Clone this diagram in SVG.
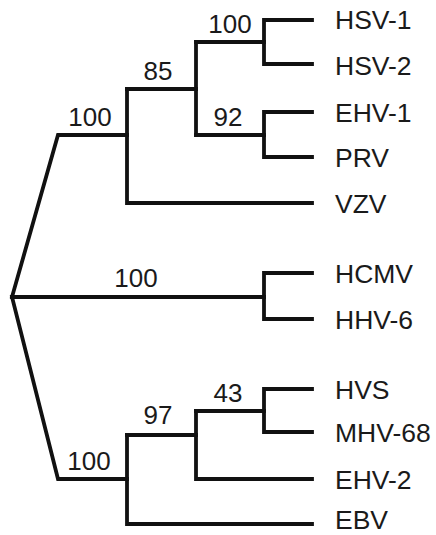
<svg xmlns="http://www.w3.org/2000/svg" width="436" height="535" viewBox="0 0 436 535">
  <style>
    .br { fill: none; stroke: #111; stroke-width: 3.8; stroke-linejoin: miter; stroke-linecap: square; }
    .taxon { font-family: "Liberation Sans", Arial, sans-serif; font-size: 26.5px; fill: #1a1a1a; }
    .boot { font-family: "Liberation Sans", Arial, sans-serif; font-size: 26px; fill: #1a1a1a; text-anchor: middle; }
  </style>
  <rect width="436" height="535" fill="#fff"/>

  <!-- tree branches -->
  <g id="connectors">
    <!-- root to alpha clade -->
    <path class="br" d="M12,297 L58,135 L127,135"/>
    <!-- alpha: 85 node -->
    <path class="br" d="M127,89 L127,203 L312,203"/>
    <path class="br" d="M127,89 L196,89"/>
    <path class="br" d="M196,42 L196,135"/>
    <path class="br" d="M196,42 L264,42"/>
    <path class="br" d="M196,135 L264,135"/>
    <path class="br" d="M312,20 L264,20 L264,64 L312,64"/>
    <path class="br" d="M312,112 L264,112 L264,157 L312,157"/>
    <!-- beta clade -->
    <path class="br" d="M12,297 L264,297"/>
    <path class="br" d="M312,273 L264,273 L264,319 L312,319"/>
    <!-- gamma clade -->
    <path class="br" d="M12,297 L58,479 L127,479"/>
    <path class="br" d="M127,435 L127,524 L312,524"/>
    <path class="br" d="M127,435 L196,435"/>
    <path class="br" d="M196,411 L196,479 L312,479"/>
    <path class="br" d="M196,411 L264,411"/>
    <path class="br" d="M312,389 L264,389 L264,432 L312,432"/>
  </g>

  <!-- bootstrap values -->
  <g id="support">
    <text class="boot" x="230" y="33">100</text>
    <text class="boot" x="158" y="80">85</text>
    <text class="boot" x="90" y="126">100</text>
    <text class="boot" x="228" y="126">92</text>
    <text class="boot" x="136" y="287">100</text>
    <text class="boot" x="228" y="402">43</text>
    <text class="boot" x="158" y="424">97</text>
    <text class="boot" x="89" y="470">100</text>
  </g>

  <!-- taxa -->
  <g id="HSV-1"><text class="taxon" x="335" y="29">HSV-1</text></g>
  <g id="HSV-2"><text class="taxon" x="335" y="75">HSV-2</text></g>
  <g id="EHV-1"><text class="taxon" x="335" y="122">EHV-1</text></g>
  <g id="PRV"><text class="taxon" x="335" y="167">PRV</text></g>
  <g id="VZV"><text class="taxon" x="335" y="213">VZV</text></g>
  <g id="HCMV"><text class="taxon" x="335" y="283">HCMV</text></g>
  <g id="HHV-6"><text class="taxon" x="335" y="329">HHV-6</text></g>
  <g id="HVS"><text class="taxon" x="335" y="399">HVS</text></g>
  <g id="MHV-68"><text class="taxon" x="335" y="442">MHV-68</text></g>
  <g id="EHV-2"><text class="taxon" x="335" y="489">EHV-2</text></g>
  <g id="EBV"><text class="taxon" x="335" y="529">EBV</text></g>
</svg>
